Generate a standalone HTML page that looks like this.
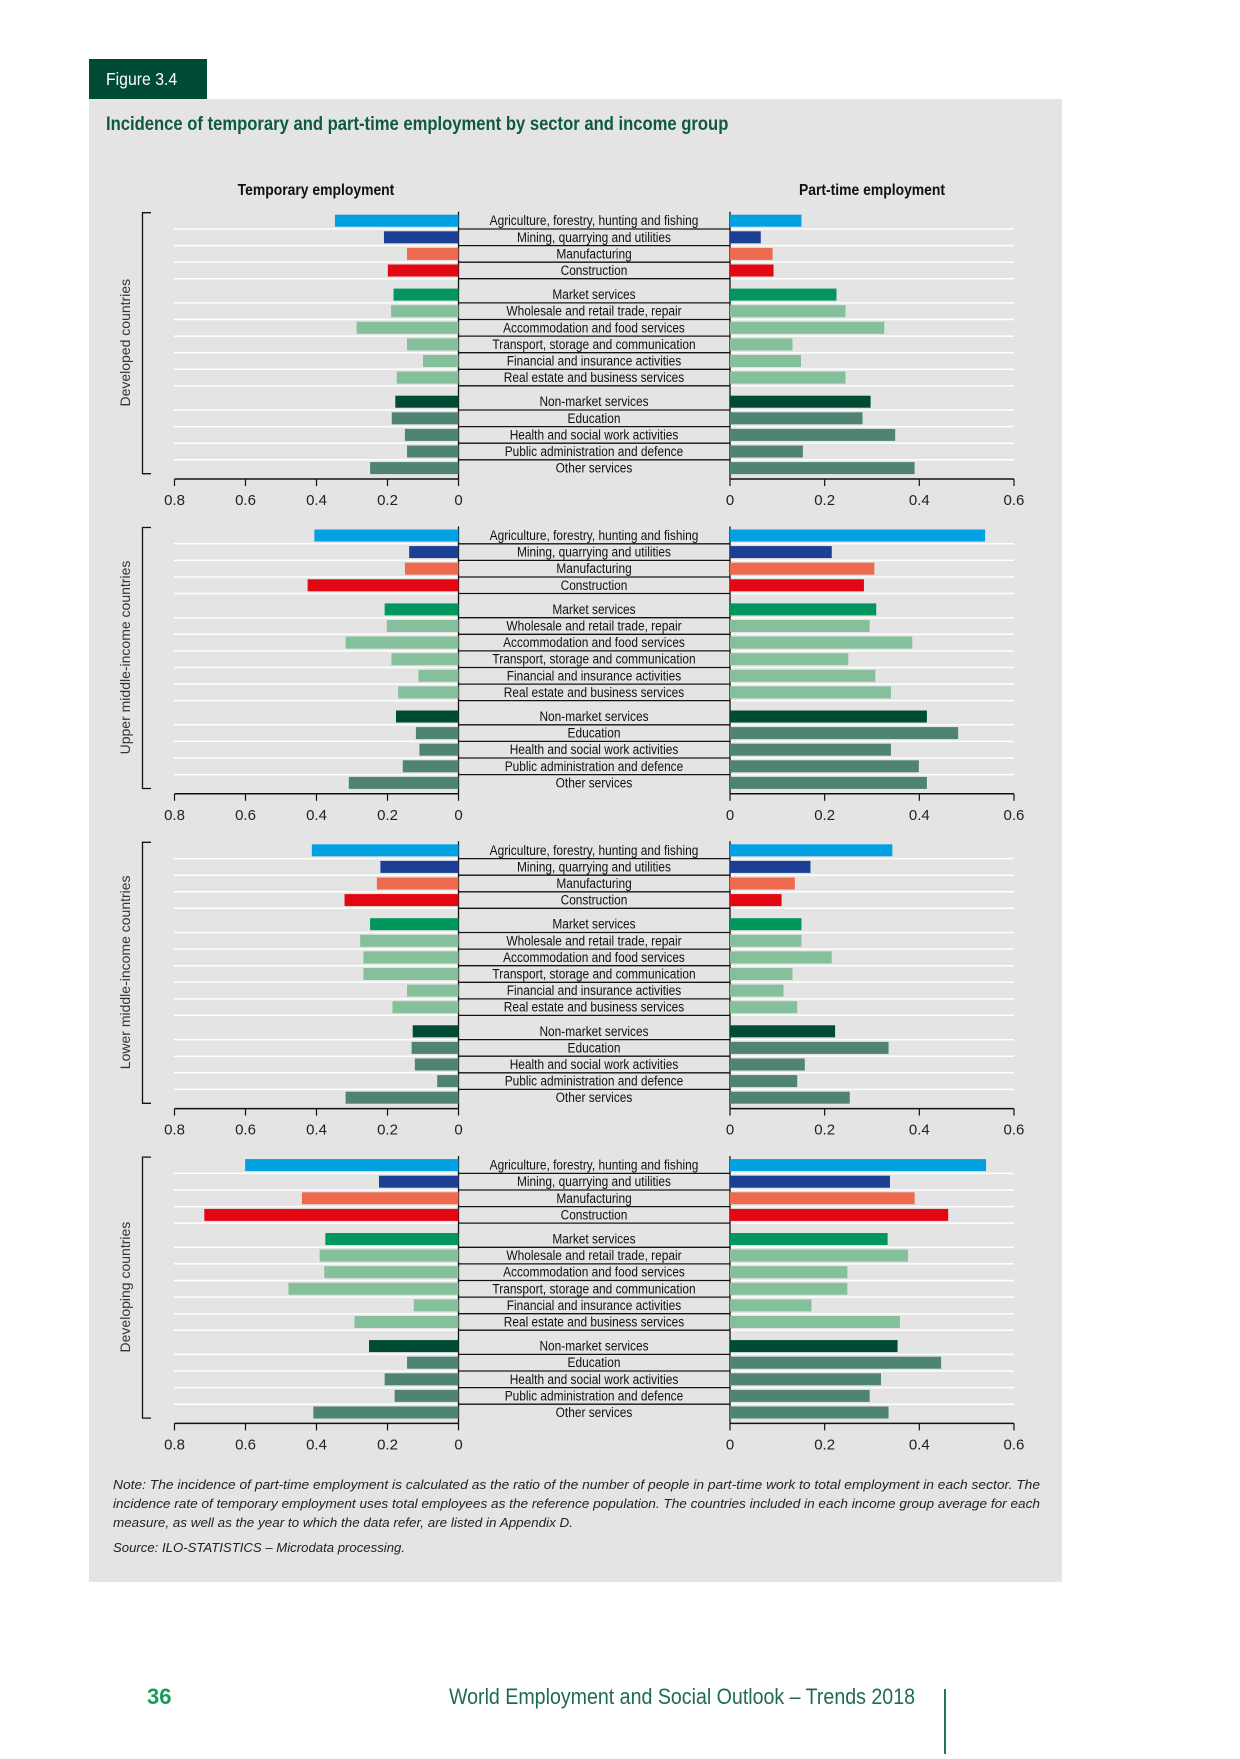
<!DOCTYPE html>
<html><head><meta charset="utf-8">
<style>
html,body{margin:0;padding:0;background:#fff;}
body{width:1240px;height:1754px;position:relative;overflow:hidden;font-family:"Liberation Sans",sans-serif;}
</style></head>
<body>
<svg id="chart" width="1240" height="1754" viewBox="0 0 1240 1754" xmlns="http://www.w3.org/2000/svg" font-family="Liberation Sans Narrow, Liberation Sans, sans-serif">
  <rect x="89" y="99" width="973" height="1483" fill="#e3e4e3"/>
  <rect x="89" y="59" width="118" height="40" fill="#004b35"/>
  <text x="106" y="85" fill="#fff" font-size="18" transform="translate(106 0) scale(0.88 1) translate(-106 0)">Figure 3.4</text>
  <text x="106" y="130" fill="#0f5a3f" font-size="19" font-weight="bold" transform="translate(106 0) scale(0.875 1) translate(-106 0)">Incidence of temporary and part-time employment by sector and income group</text>
  <text x="316" y="195" fill="#111" font-size="16" font-weight="bold" text-anchor="middle" transform="translate(316 0) scale(0.87 1) translate(-316 0)">Temporary employment</text>
  <text x="872" y="195" fill="#111" font-size="16" font-weight="bold" text-anchor="middle" transform="translate(872 0) scale(0.87 1) translate(-872 0)">Part-time employment</text>
  <g id="panels"></g>
  <g font-size="13" font-style="italic" fill="#222">
    <text x="113" y="1489" textLength="927" lengthAdjust="spacingAndGlyphs">Note: The incidence of part-time employment is calculated as the ratio of the number of people in part-time work to total employment in each sector. The</text>
    <text x="113" y="1508" textLength="927" lengthAdjust="spacingAndGlyphs">incidence rate of temporary employment uses total employees as the reference population. The countries included in each income group average for each</text>
    <text x="113" y="1527" textLength="460" lengthAdjust="spacingAndGlyphs">measure, as well as the year to which the data refer, are listed in Appendix D.</text>
    <text x="113" y="1552" textLength="292" lengthAdjust="spacingAndGlyphs">Source: ILO-STATISTICS – Microdata processing.</text>
  </g>
  <text x="147" y="1704" fill="#1a9a5b" font-size="22" font-weight="bold">36</text>
  <text x="449" y="1704" fill="#1f6b4f" font-size="22" textLength="466" lengthAdjust="spacingAndGlyphs">World Employment and Social Outlook – Trends 2018</text>
  <line x1="945" y1="1689" x2="945" y2="1754" stroke="#1f7a55" stroke-width="2"/>
</svg>
<script>
const sectors = ["Agriculture, forestry, hunting and fishing","Mining, quarrying and utilities","Manufacturing","Construction","Market services","Wholesale and retail trade, repair","Accommodation and food services","Transport, storage and communication","Financial and insurance activities","Real estate and business services","Non-market services","Education","Health and social work activities","Public administration and defence","Other services"];
const groups = ["Developed countries","Upper middle-income countries","Lower middle-income countries","Developing countries"];
const tempDeveloped = [0.348,0.21,0.145,0.199,0.183,0.19,0.287,0.145,0.1,0.174,0.178,0.188,0.151,0.145,0.249];
const partDeveloped = [0.151,0.065,0.09,0.092,0.225,0.244,0.326,0.132,0.15,0.244,0.297,0.28,0.349,0.154,0.39];
const tempUpper = [0.406,0.139,0.151,0.425,0.208,0.202,0.318,0.189,0.113,0.17,0.176,0.12,0.11,0.157,0.309];
const partUpper = [0.539,0.215,0.305,0.283,0.309,0.295,0.385,0.25,0.307,0.34,0.416,0.482,0.34,0.399,0.416];
const tempLower = [0.413,0.22,0.23,0.321,0.249,0.277,0.268,0.268,0.145,0.186,0.129,0.132,0.123,0.06,0.318];
const partLower = [0.343,0.17,0.137,0.109,0.151,0.151,0.215,0.132,0.113,0.142,0.222,0.335,0.158,0.142,0.253];
const tempDeveloping = [0.601,0.224,0.441,0.716,0.375,0.391,0.378,0.479,0.126,0.293,0.252,0.145,0.208,0.18,0.409];
const partDeveloping = [0.541,0.338,0.39,0.461,0.333,0.376,0.248,0.248,0.172,0.359,0.354,0.446,0.319,0.295,0.335];
const tempTicks = [0.8,0.6,0.4,0.2,0];
const partTicks = [0,0.2,0.4,0.6];
const tempSeries = [tempDeveloped,tempUpper,tempLower,tempDeveloping];
const partSeries = [partDeveloped,partUpper,partLower,partDeveloping];
const colors = ["#00a0e3","#1b3f95","#ee6a4f","#e30613","#00965e","#86bf9b","#86bf9b","#86bf9b","#86bf9b","#86bf9b","#004b35","#4f8474","#4f8474","#4f8474","#4f8474"];

const NS="http://www.w3.org/2000/svg";
const L0=458.5, LSCALE=355, R0=730, RSCALE=473.3;
const xL=v=>L0-v*LSCALE, xR=v=>R0+v*RSCALE;
function rowY(base,i){const g=i<4?0:(i<10?1:2);return base+i*16.6+g*7.5;}
function mk(tag,attrs,parent){const e=document.createElementNS(NS,tag);for(const k in attrs)e.setAttribute(k,attrs[k]);parent.appendChild(e);return e;}
const root=document.getElementById('panels');
groups.forEach((gname,p)=>{
  const base=220.7+p*314.8;
  const g=mk('g',{},root);
  
  
  for(let i=0;i<14;i++){
    const yy=(i==3||i==9)?rowY(base,i)+8.2:(rowY(base,i)+rowY(base,i+1))/2;
    const w=mk('line',{x1:174,x2:1014,y1:yy,y2:yy,stroke:'#fff','stroke-width':1.5},g);
    
    
    const b=mk('line',{x1:L0,x2:R0,y1:yy,y2:yy,stroke:'#111','stroke-width':1.3},g);
    
    
  }
  const axisY=base+258.3;
  [L0,R0].forEach(x=>{const v=mk('line',{x1:x,x2:x,y1:base-9,y2:axisY,stroke:'#111','stroke-width':1.3},g);
    
    });
  sectors.forEach((s,i)=>{
    const y=rowY(base,i);
    const tv=tempSeries[p][i], pv=partSeries[p][i];
    const r1=mk('rect',{x:xL(tv),y:y-6,width:L0-xL(tv),height:12,fill:colors[i]},g);
    
    
    const r2=mk('rect',{x:R0,y:y-6,width:xR(pv)-R0,height:12,fill:colors[i]},g);
    
    
    const t=mk('text',{x:594,y:y+4.5,'text-anchor':'middle','font-size':14,fill:'#111',transform:`translate(594 0) scale(0.85 1) translate(-594 0)`},g);
    t.textContent=s;
    
    
  });
  const a1=mk('line',{x1:xL(0.8),x2:L0,y1:axisY,y2:axisY,stroke:'#111','stroke-width':1.5},g);
  
  
  const a2=mk('line',{x1:R0,x2:xR(0.6),y1:axisY,y2:axisY,stroke:'#111','stroke-width':1.5},g);
  
  
  tempTicks.forEach(v=>{const x=xL(v);
    mk('line',{x1:x,x2:x,y1:axisY,y2:axisY+7,stroke:'#111','stroke-width':1.2},g);
    const t=mk('text',{x:x,y:axisY+26,'text-anchor':'middle','font-size':15,fill:'#222'},g);
    t.textContent=String(v);
    
    });
  partTicks.forEach(v=>{const x=xR(v);
    mk('line',{x1:x,x2:x,y1:axisY,y2:axisY+7,stroke:'#111','stroke-width':1.2},g);
    const t=mk('text',{x:x,y:axisY+26,'text-anchor':'middle','font-size':15,fill:'#222'},g);
    t.textContent=String(v);
    
    });
  const br=mk('path',{d:`M151 ${base-8} H142.5 V${base+253} H151`,fill:'none',stroke:'#111','stroke-width':1.3},g);
  
  
  const cy=base+122;
  const gl=mk('text',{x:130,y:cy,'text-anchor':'middle','font-size':14,fill:'#333',transform:`rotate(-90 130 ${cy})`},g);
  gl.textContent=gname;
  
  
});
</script>
</body></html>
